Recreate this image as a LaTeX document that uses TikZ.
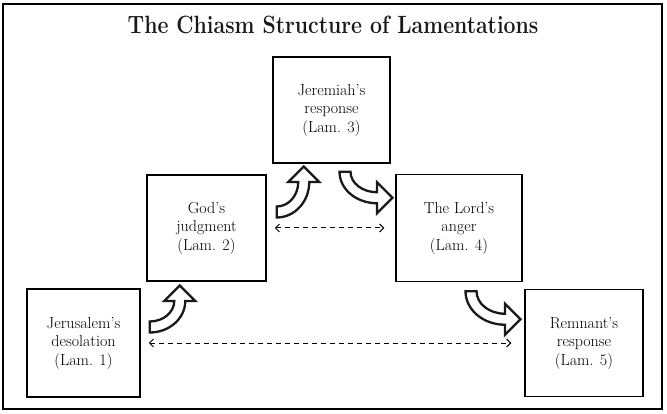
\documentclass[tikz,border=0pt]{standalone}
\usetikzlibrary{arrows.meta,calc}
\tikzset{
  lambox/.style={draw, line width=1.5pt, align=center, inner sep=0pt,
    font=\fontsize{16}{18.5}\selectfont, text=black},
  crossline/.style={line width=1pt, dash pattern=on 5.5pt off 3.5pt,
    {Straight Barb[length=4pt,width=8pt]}-{Straight Barb[length=4pt,width=8pt]}},
  pics/bendarrow/.style n args={2}{code={
    \def\w{5.5}\def\h{15.5}\def\L{15.5}
    \draw[line width=2.3pt, fill=white, line join=miter, draw=black!90]
      (0,\w) arc[start angle=90, end angle=0, x radius={#1+\w}, y radius={#2+\w}]
      -- ({#1+\h},{-#2}) -- (#1,{-#2-\L}) -- ({#1-\h},{-#2}) -- ({#1-\w},{-#2})
      arc[start angle=0, end angle=90, x radius={#1-\w}, y radius={#2-\w}]
      -- cycle;
  }}
}
\begin{document}
\begin{tikzpicture}[x=1pt,y=-1pt]
\useasboundingbox (0,0) rectangle (667,414);
\draw[line width=1.8pt] (3,4) rectangle (662,409);
\node[font=\bfseries\fontsize{25}{28}\selectfont, xscale=0.85, transform shape, text=black!90]
  (title) at (333,25) {The Chiasm Structure of Lamentations};

\node[lambox, minimum width=113pt, minimum height=108pt] (b1) at (83.5,343) {Jerusalem's\\desolation\\(Lam. 1)};
\node[lambox, minimum width=119pt, minimum height=106pt] (b2) at (206.5,228) {God's\\judgment\\(Lam. 2)};
\node[lambox, minimum width=117pt, minimum height=106pt] (b3) at (331.5,110) {Jeremiah's\\response\\(Lam. 3)};
\node[lambox, minimum width=126pt, minimum height=107pt] (b4) at (459,228) {The Lord's\\anger\\(Lam. 4)};
\node[lambox, minimum width=118pt, minimum height=107pt] (b5) at (584,343) {Remnant's\\response\\(Lam. 5)};

\pic at ($(b1.east)+(9,-16)$) {bendarrow={30}{26}};
\pic at ($(b2.east)+(10,-16)$) {bendarrow={27}{30}};
\pic[rotate=-90] at ($(b3.south)+(13.5,8)$) {bendarrow={26}{32}};
\pic[rotate=-90] at ($(b4.south)+(12,9)$) {bendarrow={28}{34}};

\draw[crossline] ([xshift=8pt]b2.east) -- ([xshift=-11pt]b4.west);
\draw[crossline] ([xshift=8pt]b1.east) -- ([xshift=-13pt]b5.west);
\end{tikzpicture}
\end{document}
